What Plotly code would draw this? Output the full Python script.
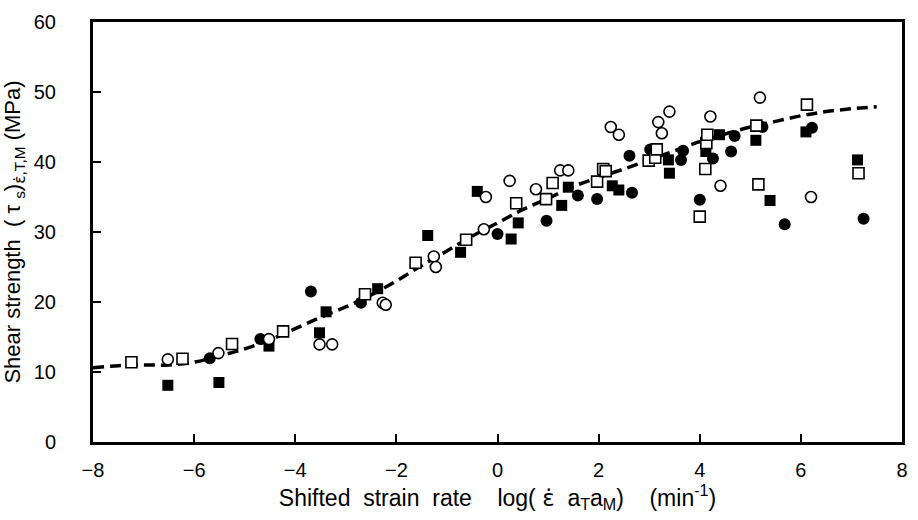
import plotly.graph_objects as go

# Filled circles
fc_x = [-5.69, -4.69, -3.69, -2.70, 0.00, 0.97, 1.59, 1.97, 2.61, 2.66, 3.02, 3.63, 3.67, 4.00, 4.26, 4.62, 4.69, 5.24, 5.68, 6.22, 7.24]
fc_y = [11.95, 14.7, 21.5, 19.9, 29.7, 31.6, 35.2, 34.7, 40.9, 35.6, 41.8, 40.3, 41.6, 34.6, 40.5, 41.5, 43.7, 45.0, 31.1, 44.9, 31.9]

# Filled squares
fs_x = [-6.52, -5.51, -4.52, -3.52, -3.39, -2.37, -1.38, -0.73, -0.40, 0.27, 0.41, 1.27, 1.40, 2.27, 2.40, 3.38, 3.40, 4.12, 4.39, 5.11, 5.39, 6.10, 7.12]
fs_y = [8.1, 8.5, 13.7, 15.6, 18.6, 21.9, 29.5, 27.1, 35.8, 29.0, 31.3, 33.8, 36.4, 36.6, 36.0, 40.3, 38.4, 41.5, 43.9, 43.1, 34.5, 44.3, 40.3]

# Open circles
oc_x = [-6.52, -5.52, -4.52, -3.52, -3.27, -2.27, -2.21, -1.26, -1.22, -0.27, -0.23, 0.24, 0.76, 1.24, 1.40, 2.24, 2.40, 3.18, 3.25, 3.40, 4.21, 4.41, 5.19, 6.20]
oc_y = [11.8, 12.7, 14.7, 13.95, 13.95, 19.9, 19.6, 26.5, 25.0, 30.4, 35.0, 37.3, 36.1, 38.8, 38.8, 45.0, 43.9, 45.7, 44.1, 47.2, 46.5, 36.6, 49.2, 35.0]

# Open squares
os_x = [-7.24, -6.23, -5.25, -4.24, -2.62, -1.62, -0.62, 0.37, 0.96, 1.09, 1.97, 2.09, 2.14, 2.99, 3.12, 3.15, 4.00, 4.11, 4.13, 4.15, 5.12, 5.16, 6.12, 7.14]
os_y = [11.4, 11.9, 14.0, 15.8, 21.1, 25.6, 28.9, 34.1, 34.7, 37.0, 37.2, 39.0, 38.7, 40.2, 40.6, 41.8, 32.2, 39.0, 42.7, 43.9, 45.2, 36.8, 48.2, 38.4]

# Fitted master curve (dashed)
fit_x = [-8, -7.5, -7, -6.5, -6, -5.5, -5, -4.5, -4, -3.5, -3, -2.5, -2, -1.5, -1, -0.5, 0, 0.5, 1, 1.5, 2, 2.5, 3, 3.5, 4, 4.5, 5, 5.5, 6, 6.5, 7, 7.5]
fit_y = [10.6, 10.9, 11.0, 11.0, 11.4, 12.3, 13.3, 14.6, 16.2, 17.8, 19.3, 21.0, 23.0, 25.2, 27.3, 29.4, 31.3, 33.2, 34.8, 36.5, 37.8, 39.0, 40.3, 41.6, 42.9, 44.0, 45.0, 45.8, 46.6, 47.2, 47.6, 47.9]

x_ticks = [-8, -6, -4, -2, 0, 2, 4, 6, 8]
y_ticks = [0, 10, 20, 30, 40, 50, 60]

fig = go.Figure()
fig.add_trace(go.Scatter(x=fit_x, y=fit_y, mode="lines",
                         line=dict(color="black", width=3.5, dash="11px,6px", shape="spline"),
                         showlegend=False, hoverinfo="skip"))
fig.add_trace(go.Scatter(x=fc_x, y=fc_y, mode="markers",
                         marker=dict(symbol="circle", size=12, color="black", line=dict(width=0)),
                         showlegend=False))
fig.add_trace(go.Scatter(x=fs_x, y=fs_y, mode="markers",
                         marker=dict(symbol="square", size=11, color="black", line=dict(width=0)),
                         showlegend=False))
fig.add_trace(go.Scatter(x=oc_x, y=oc_y, mode="markers",
                         marker=dict(symbol="circle", size=11, color="white", line=dict(width=1.6, color="black")),
                         showlegend=False))
fig.add_trace(go.Scatter(x=os_x, y=os_y, mode="markers",
                         marker=dict(symbol="square", size=11, color="white", line=dict(width=1.6, color="black")),
                         showlegend=False))

title_font = "Liberation Sans, Arial, sans-serif"
edot = '<span style="font-family:DejaVu Sans">ε̇</span>'

fig.update_layout(
    width=918, height=520,
    margin=dict(l=91, r=10, t=22, b=78),
    plot_bgcolor="white", paper_bgcolor="white",
    font=dict(family=title_font, size=20, color="black"),
    xaxis=dict(
        range=[-8, 8], tickvals=x_ticks, ticktext=[str(v).replace("-", "−") for v in x_ticks],
        tickfont=dict(size=20),
        showgrid=False, zeroline=False, showline=True, linecolor="black", linewidth=3,
        mirror=True, ticks="inside", ticklen=8, tickwidth=2, tickcolor="black",
        ticklabelstandoff=8,
        title=dict(text="Shifted  strain  rate    log( " + edot + "  a<sub>T</sub>a<sub>M</sub>)    (min<sup>-1</sup>)",
                   font=dict(size=23), standoff=2),
    ),
    yaxis=dict(
        range=[0, 60], tickvals=y_ticks,
        tickfont=dict(size=20),
        showgrid=False, zeroline=False, showline=True, linecolor="black", linewidth=3,
        mirror=True, ticks="inside", ticklen=8, tickwidth=2, tickcolor="black",
        ticklabelstandoff=30,
        title=dict(text="Shear strength  ( τ <sub>s</sub>)<sub>" + edot + ",T,M</sub> (MPa)",
                   font=dict(size=22), standoff=8),
    ),
)

fig.write_html("out.html")
